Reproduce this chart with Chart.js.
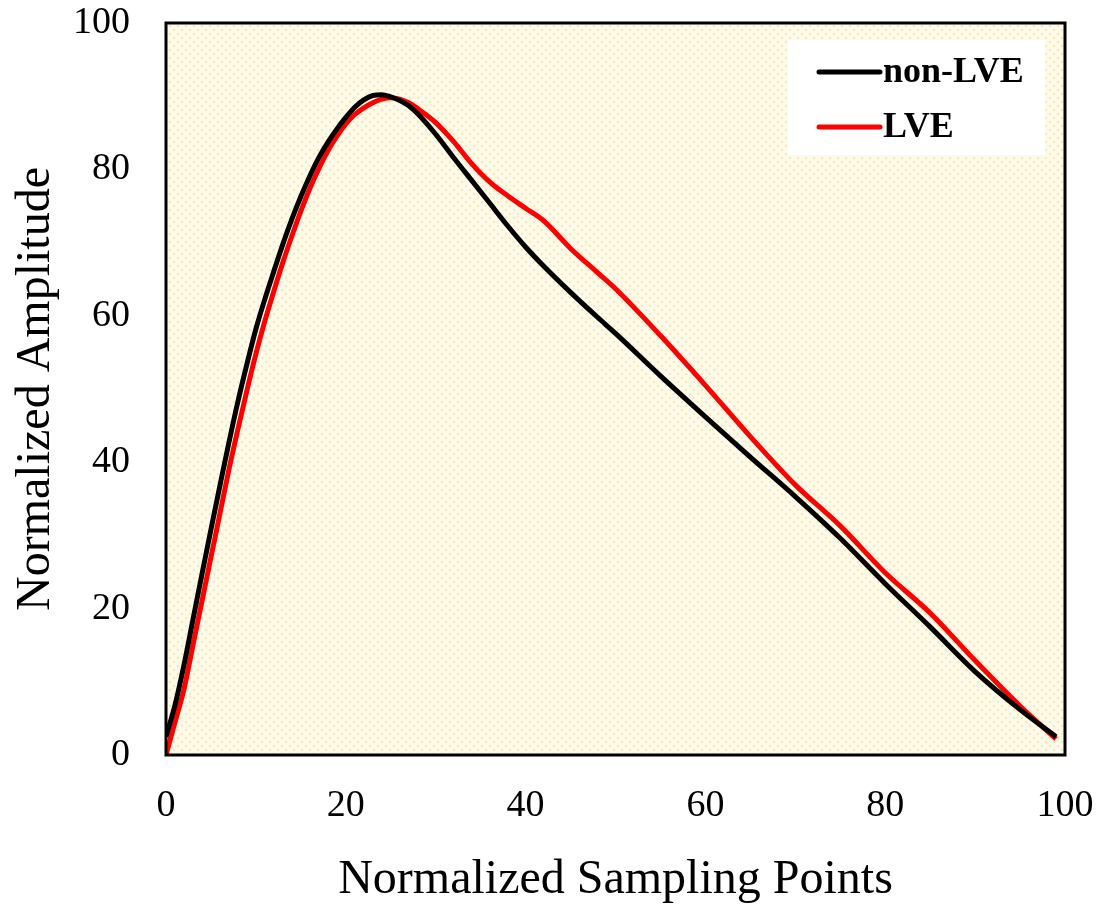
<!DOCTYPE html>
<html>
<head>
<meta charset="utf-8">
<script src="https://cdn.jsdelivr.net/npm/chart.js@4.4.0/dist/chart.umd.min.js"></script>
<style>
  html, body { margin: 0; padding: 0; background: #fff; }
  #wrap { width: 1104px; height: 909px; }
</style>
</head>
<body>
<div id="wrap"><canvas id="ampChart" width="1104" height="909"></canvas></div>
<script>
// sampling points (x) and normalized amplitude for each signal
var xNonLVE = [0,1,2,3,4,5,6,7,8,9,10,11,12,13,14,15,16,17,18,19,20,21,22,23,24,25,26,27,28,30,32,34,36,38,40,42,45,48,50,55,60,65,70,75,80,85,90,95,99];
var yNonLVE = [2.5,6.8,12.3,18.5,24.7,30.8,36.8,42.7,48.3,53.4,58.2,62.3,66.1,69.8,73.2,76.3,79.1,81.6,83.7,85.5,87.1,88.5,89.5,90.1,90.2,89.9,89.4,88.7,87.6,84.8,81.6,78.5,75.4,72.3,69.4,66.8,63.2,59.8,57.6,51.8,46.2,40.7,35.3,29.6,23.4,17.5,11.4,6.2,2.5];

var xLVE = [0,1,2,3,4,5,6,7,8,9,10,11,12,13,14,15,16,17,18,19,20,21,22,23,24,25,26,27,28,30,32,34,36,38,40,42,45,48,50,55,60,65,70,75,80,85,90,95,99];
var yLVE = [0,4.5,9,15,21,27,33,39,44.5,49.8,54.8,59.3,63.4,67.3,70.9,74.3,77.4,80.1,82.5,84.5,86.2,87.5,88.4,89.1,89.6,89.8,89.6,89.1,88.3,86.4,83.8,80.8,78.3,76.4,74.7,73.0,69.2,65.9,63.7,57.3,50.5,43.5,36.9,31.3,24.9,19.4,12.9,6.7,2.2];

var xTicks = [0,20,40,60,80,100];
var yTicks = [0,20,40,60,80,100];

function toPoints(xs, ys){
  var pts = [];
  for(var i=0;i<xs.length;i++){
    pts.push({x: xs[i], y: ys[i]});
  }
  return pts;
}

// dotted parchment-like fill for the plot area
function makePattern(ctx){
  var c = document.createElement('canvas');
  c.width = 8; c.height = 8;
  var p = c.getContext('2d');
  p.fillStyle = '#fefaea';
  p.fillRect(0,0,8,8);
  p.fillStyle = '#f8e9b8';
  p.beginPath(); p.arc(2,2,1.2,0,Math.PI*2); p.fill();
  p.beginPath(); p.arc(6,6,1.2,0,Math.PI*2); p.fill();
  return ctx.createPattern(c,'repeat');
}

var plotBg = {
  id: 'plotBg',
  beforeDraw: function(chart){
    var a = chart.chartArea, ctx = chart.ctx;
    ctx.save();
    ctx.fillStyle = makePattern(ctx);
    ctx.fillRect(a.left, a.top, a.right-a.left, a.bottom-a.top);
    ctx.restore();
  },
  afterDatasetsDraw: function(chart){
    var a = chart.chartArea, ctx = chart.ctx;
    ctx.save();
    ctx.strokeStyle = '#000';
    ctx.lineWidth = 3;
    ctx.strokeRect(a.left, a.top, a.right-a.left, a.bottom-a.top);
    ctx.restore();
  }
};

// legend box in the top right corner of the plot
var boxLegend = {
  id: 'boxLegend',
  afterDraw: function(chart){
    var ctx = chart.ctx;
    var a = chart.chartArea;
    var bx = a.right - 277, by = a.top + 17;
    ctx.save();
    ctx.fillStyle = '#ffffff';
    ctx.fillRect(bx, by, 257, 115);
    ctx.font = 'bold 36px "Liberation Serif"';
    ctx.textBaseline = 'middle';
    var ds = chart.data.datasets;
    for(var i=0;i<ds.length;i++){
      var ly = by + 32 + i*55;
      ctx.strokeStyle = ds[i].borderColor;
      ctx.lineWidth = 5;
      ctx.lineCap = 'round';
      ctx.beginPath();
      ctx.moveTo(bx + 31, ly);
      ctx.lineTo(bx + 92, ly);
      ctx.stroke();
      ctx.fillStyle = '#000';
      ctx.fillText(ds[i].label, bx + 95, ly + 1);
    }
    ctx.restore();
  }
};

var data1 = {
  datasets: [{
    label: 'non-LVE',
    data: toPoints(xNonLVE, yNonLVE),
    borderColor: '#000000',
    borderWidth: 5,
    pointRadius: 0,
    cubicInterpolationMode: 'monotone',
    fill: false
  },{
    label: 'LVE',
    data: toPoints(xLVE, yLVE),
    borderColor: '#ff0000',
    borderWidth: 5,
    pointRadius: 0,
    cubicInterpolationMode: 'monotone',
    fill: false
  }]
};

var options = {
  responsive: false,
  animation: false,
  layout: { padding: { top: 23, right: 39, left: 0, bottom: 0 } },
  plugins: {
    legend: { display: false },
    tooltip: { enabled: false }
  },
  scales: {
    x: {
      type: 'linear',
      min: 0, max: 100,
      afterBuildTicks: function(s){ s.ticks = xTicks.map(function(v){ return {value: v}; }); },
      afterFit: function(s){ s.height = 154; s.paddingLeft = 0; s.paddingRight = 0; },
      grid: { display: false, drawTicks: false },
      border: { display: false },
      ticks: {
        color: '#000',
        padding: 28,
        maxRotation: 0,
        font: { family: 'Liberation Serif', size: 38 }
      },
      title: {
        display: true,
        text: 'Normalized Sampling Points',
        color: '#000',
        font: { family: 'Liberation Serif', size: 48 },
        padding: { top: 0, bottom: 0 }
      }
    },
    y: {
      type: 'linear',
      min: 0, max: 100,
      afterBuildTicks: function(s){ s.ticks = yTicks.map(function(v){ return {value: v}; }); },
      afterFit: function(s){ s.width = 166; s.paddingTop = 0; s.paddingBottom = 0; },
      grid: { display: false, drawTicks: false },
      border: { display: false },
      ticks: {
        color: '#000',
        padding: 36,
        font: { family: 'Liberation Serif', size: 38 }
      },
      title: {
        display: true,
        text: 'Normalized Amplitude',
        color: '#000',
        font: { family: 'Liberation Serif', size: 48 },
        padding: { top: 8, bottom: 0 }
      }
    }
  }
};

var ctx = document.getElementById('ampChart');
var chart = new Chart(ctx, {
  type: 'line',
  data: data1,
  options: options,
  plugins: [plotBg, boxLegend]
});
</script>
</body>
</html>
